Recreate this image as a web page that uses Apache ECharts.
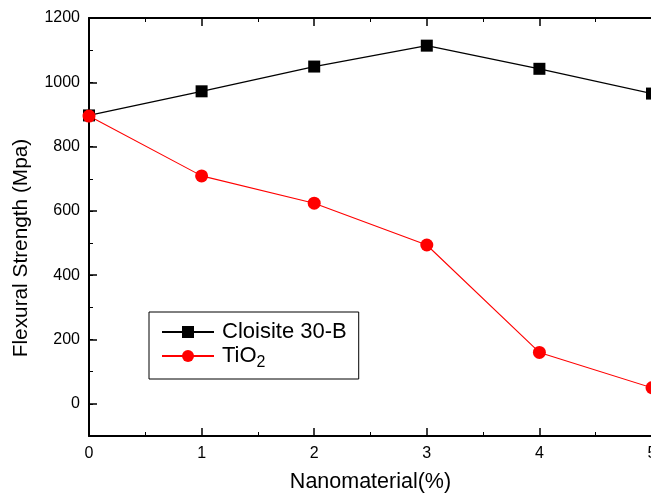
<!DOCTYPE html>
<html>
<head>
<meta charset="utf-8">
<script src="https://cdn.jsdelivr.net/npm/echarts@6/dist/echarts.min.js"></script>
<style>
  html, body { margin: 0; padding: 0; background: #fff; }
  #chart { width: 651px; height: 495px; }
</style>
</head>
<body>
<div id="chart"></div>
<script>
// Nanomaterial loading (%) and flexural strength (MPa) per filler
const loadings = [0, 1, 2, 3, 4, 5];
const cloisite = [897, 972, 1049, 1114, 1042, 965];
const tio2 = [895, 709, 624, 494, 160, 50];
const yLabelValues = [0, 200, 400, 600, 800, 1000, 1200];

const FONT = 'Liberation Sans, Arial, sans-serif';

const chart = echarts.init(document.getElementById('chart'), null, { renderer: 'canvas' });

const axisLine = { show: true, onZero: false, lineStyle: { color: '#000', width: 2 } };
const plain = v => String(v);

chart.setOption({
  backgroundColor: '#fff',
  animation: false,
  grid: { left: 89, top: 18, right: -1, bottom: 59, show: false, outerBoundsMode: 'none', containLabel: false },
  legend: {
    orient: 'vertical',
    left: 149,
    top: 312,
    padding: [9, 12, 8, 12],
    itemWidth: 52,
    itemHeight: 15,
    itemGap: 2,
    borderColor: '#000',
    borderWidth: 1,
    borderRadius: 0,
    data: ['Cloisite 30-B', 'TiO2'],
    formatter: function (name) {
      if (name === 'TiO2') return '{t|TiO}{s|2}';
      return '{t|' + name + '}';
    },
    textStyle: {
      rich: {
        t: { fontFamily: FONT, fontSize: 22, color: '#000', padding: [0, 0, 0, 3] },
        s: { fontFamily: FONT, fontSize: 16, color: '#000', padding: [14, 0, 0, 0] }
      }
    }
  },
  xAxis: [
    {
      type: 'value', position: 'bottom',
      min: 0, max: 5, interval: 1,
      name: 'Nanomaterial(%)', nameLocation: 'middle', nameGap: 35,
      nameTextStyle: { fontFamily: FONT, fontSize: 21.5, color: '#000' },
      axisLine: axisLine,
      axisTick: { show: true, inside: true, length: 8, lineStyle: { color: '#000', width: 1.5 } },
      minorTick: { show: true, splitNumber: 2, length: 4, lineStyle: { color: '#000', width: 1 } },
      axisLabel: { fontFamily: FONT, fontSize: 16, color: '#000', margin: 10, formatter: plain },
      splitLine: { show: false }, z: 3
    },
    {
      type: 'value', position: 'top',
      min: 0, max: 5, interval: 1,
      axisLine: axisLine,
      axisTick: { show: true, inside: true, length: 8, lineStyle: { color: '#000', width: 1.5 } },
      minorTick: { show: true, splitNumber: 2, length: 4, lineStyle: { color: '#000', width: 1 } },
      axisLabel: { show: false },
      splitLine: { show: false }, z: 3
    }
  ],
  yAxis: [
    {
      type: 'value', position: 'left',
      min: -100, max: 1200,
      name: 'Flexural Strength (Mpa)', nameLocation: 'middle', nameGap: 57,
      nameTextStyle: { fontFamily: FONT, fontSize: 20.8, color: '#000', padding: [0, 42, 0, 0] },
      axisLine: axisLine,
      axisTick: { show: true, inside: true, length: 8, customValues: yLabelValues, lineStyle: { color: '#000', width: 1.5 } },
      axisLabel: { fontFamily: FONT, fontSize: 16, color: '#000', margin: 9, customValues: yLabelValues, formatter: plain },
      splitLine: { show: false }, z: 3
    },
    {
      // short ticks every 100 on the left edge
      type: 'value', position: 'left',
      min: -100, max: 1200, interval: 100,
      axisLine: { show: false },
      axisTick: { show: true, inside: true, length: 4, lineStyle: { color: '#000', width: 1 } },
      axisLabel: { show: false },
      splitLine: { show: false }
    },
    {
      type: 'value', position: 'right',
      min: -100, max: 1200, interval: 100,
      axisLine: axisLine,
      axisTick: { show: false },
      axisLabel: { show: false },
      splitLine: { show: false }
    }
  ],
  series: [
    {
      name: 'Cloisite 30-B', type: 'line',
      xAxisIndex: 0, yAxisIndex: 0,
      data: loadings.map((x, i) => [x, cloisite[i]]),
      symbol: 'rect', symbolSize: 12,
      itemStyle: { color: '#000' },
      lineStyle: { color: '#000', width: 1.3 },
      clip: false
    },
    {
      name: 'TiO2', type: 'line',
      xAxisIndex: 0, yAxisIndex: 0,
      data: loadings.map((x, i) => [x, tio2[i]]),
      symbol: 'circle', symbolSize: 13,
      itemStyle: { color: '#ff0000' },
      lineStyle: { color: '#ff0000', width: 1.1 },
      clip: false
    }
  ]
});
</script>
</body>
</html>
